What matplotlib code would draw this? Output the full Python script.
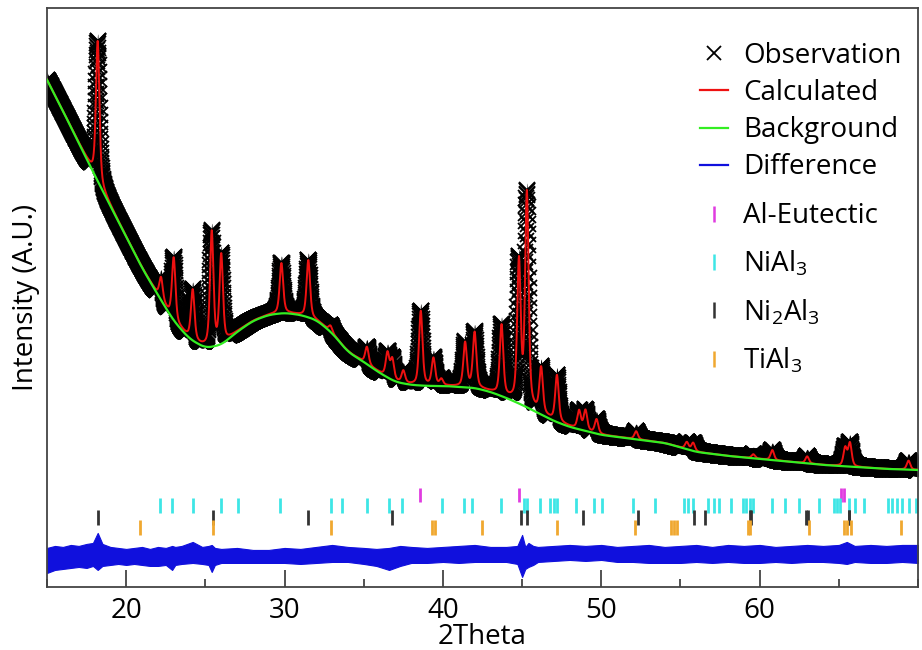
import numpy as np
import matplotlib
matplotlib.use("Agg")
from matplotlib import pyplot as plt
from matplotlib.lines import Line2D
from matplotlib.ticker import MultipleLocator

plt.rcParams['font.family'] = ['Open Sans', 'DejaVu Sans']
plt.rcParams['mathtext.fontset'] = 'custom'
plt.rcParams['mathtext.rm'] = 'Open Sans'
plt.rcParams['mathtext.default'] = 'regular'

# refined background (green curve)
bg_theta = [14.0, 15.0, 16.0, 17.0, 18.0, 19.0, 20.0, 21.0, 22.0, 23.0, 24.0,
            25.0, 26.0, 27.0, 28.0, 29.0, 30.0, 31.0, 32.0, 33.0, 34.0,
            35.0, 36.0, 37.0, 38.0, 39.0, 40.0, 41.0, 42.0, 43.0, 44.0,
            45.0, 46.0, 47.0, 48.0, 49.0, 50.0, 52.0, 54.0, 56.0, 58.0,
            60.0, 62.0, 64.0, 66.0, 68.0, 70.0, 71.0]
bg_int = [538, 507, 476, 444, 412, 381, 350, 319, 292, 266, 248,
          239, 242, 255, 266, 272, 274, 272, 267, 254, 235,
          225, 214, 205, 202, 201, 201, 200, 199, 195, 189,
          182, 174, 166, 160, 156, 152, 148, 144, 135, 131,
          128, 125, 122, 120, 118, 117, 116]

# reflections in the calculated pattern: 2theta and height above background
peak_pos = [18.2, 22.2, 23.0, 24.2, 25.4, 26.0, 29.8, 31.5, 32.9, 35.2,
            36.5, 36.8, 37.5, 38.6, 39.4, 39.9, 41.4, 42.0, 43.7, 44.8,
            45.3, 46.2, 47.2, 48.6, 49.0, 49.7, 52.2, 55.4, 55.8, 59.6,
            60.8, 63.0, 65.4, 65.7, 69.4]
peak_height = [140, 22, 62, 50, 114, 88, 50, 57, 6, 17,
               24, 20, 12, 74, 27, 6, 44, 55, 70, 140,
               212, 45, 46, 18, 20, 14, 8, 7, 8, 4,
               10, 7, 18, 23, 9]
peak_fwhm = 0.26

# phase reflection markers
tick_al = [38.53, 44.80, 65.15, 65.31]
tick_nial3 = [22.13, 22.92, 24.23, 25.97, 27.07, 29.70, 32.95, 33.61, 35.19,
              36.59, 37.43, 39.92, 41.32, 41.85, 43.64, 45.11, 45.32, 46.10,
              46.73, 47.00, 47.21, 48.41, 49.57, 50.05, 51.99, 53.38, 55.25,
              55.46, 55.77, 56.74, 57.10, 57.41, 58.19, 58.95, 59.16, 59.37,
              59.58, 60.78, 61.62, 62.46, 63.72, 64.67, 64.88, 65.09, 65.61,
              66.04, 66.56, 68.09, 68.35, 68.66, 68.98, 69.40, 69.90]
tick_ni2al3 = [18.19, 25.49, 31.48, 36.76, 44.90, 45.32, 48.83, 52.32,
               55.84, 56.53, 59.37, 59.48, 62.92, 63.03, 65.61, 65.67]
tick_tial3 = [20.88, 25.45, 32.91, 39.33, 39.50, 42.44, 47.21, 52.11,
              54.37, 54.57, 54.78, 59.26, 59.41, 63.13, 65.30, 65.51, 65.79,
              68.94]

# difference curve, upper / lower edge of the blue trace
diff_theta = [15.0, 15.5, 16.0, 16.5, 17.0, 17.5, 17.9, 18.2, 18.5, 19.0,
              19.5, 20.0, 20.5, 21.0, 21.5, 22.0, 22.5, 22.9, 23.1, 23.5,
              24.2, 24.8, 25.2, 25.4, 25.6, 26.0, 27.0, 28.0, 29.0, 30.0,
              31.0, 32.0, 33.0, 34.0, 35.0, 35.8, 36.6, 37.3, 38.0, 39.0,
              40.0, 41.0, 42.0, 43.0, 44.0, 44.7, 45.0, 45.2, 45.4, 45.7,
              46.0, 47.0, 48.0, 49.0, 50.0, 51.0, 52.0, 53.0, 54.0, 55.0,
              56.0, 57.0, 58.0, 59.0, 60.0, 61.0, 62.0, 63.0, 64.0, 65.0,
              65.5, 66.0, 67.0, 68.0, 69.0, 70.0]
diff_top = [39, 41, 40, 42, 41, 43, 44, 54, 43, 40,
            39, 38, 39, 40, 38, 40, 39, 41, 40, 41,
            45, 40, 41, 42, 39, 38, 39, 37, 37, 39,
            38, 40, 42, 40, 39, 38, 39, 41, 40, 39,
            40, 41, 42, 40, 40, 41, 52, 40, 44, 41,
            40, 41, 42, 41, 42, 40, 41, 42, 40, 41,
            42, 40, 42, 41, 42, 40, 41, 42, 41, 42,
            45, 41, 42, 41, 42, 42]
diff_bot = [14, 17, 18, 19, 20, 19, 21, 17, 21, 22,
            23, 22, 23, 22, 21, 21, 22, 17, 22, 23,
            24, 23, 22, 15, 22, 24, 24, 24, 24, 24,
            23, 24, 25, 25, 23, 21, 17, 21, 24, 24,
            25, 24, 25, 25, 25, 23, 10, 18, 20, 22,
            25, 26, 27, 26, 27, 25, 25, 24, 24, 24,
            25, 24, 25, 24, 24, 25, 24, 25, 25, 24,
            23, 25, 24, 24, 25, 24]

theta = np.arange(14.0, 71.0, 0.01)
background = np.interp(theta, bg_theta, bg_int)
kernel = np.ones(81) / 81
background = np.convolve(np.pad(background, 40, mode='edge'), kernel, mode='valid')

calc = background.copy()
for pos, h in zip(peak_pos, peak_height):
    d = (theta - pos) / (peak_fwhm / 2)
    calc += h * (0.5 / (1 + d ** 2) + 0.5 * np.exp(-np.log(2) * d ** 2))

fig, ax = plt.subplots(figsize=(9.22, 6.5), dpi=100)
fig.subplots_adjust(left=0.051, right=0.9957, top=0.988, bottom=0.097)

# observation: dense crosses around the profile
ax.fill_between(theta, calc - 7, calc + 7, color='black', lw=0, zorder=1)
ax.plot(theta, calc, ls='none', marker='x', ms=11, mew=1.3, color='black', zorder=1)
ax.plot(theta, calc, color='#ee1111', lw=1.4, zorder=3)
ax.plot(theta, background, color='#33ee22', lw=1.6, zorder=4)

ax.fill_between(diff_theta, diff_bot, diff_top, color='#1010dd', lw=0.8,
                edgecolor='#1010dd', zorder=2)

ax.vlines(tick_al, 85, 99, color='#e03ce0', lw=2)
ax.vlines(tick_nial3, 74, 89, color='#3ee6e6', lw=2)
ax.vlines(tick_ni2al3, 62, 77, color='#333333', lw=2)
ax.vlines(tick_tial3, 52, 67, color='#f0a830', lw=2)

ax.set_xlim(15, 70)
ax.set_ylim(0, 579)
ax.set_yticks([])
ax.xaxis.set_minor_locator(MultipleLocator(5))
ax.set_xticks([20, 30, 40, 50, 60])
ax.tick_params(axis='x', which='major', direction='in', length=12, width=1.3,
               color='#444444', labelsize=20, pad=7)
ax.tick_params(axis='x', which='minor', direction='in', length=6, width=1.3,
               color='#444444')
for spine in ax.spines.values():
    spine.set_linewidth(1.3)
    spine.set_color('#444444')

ax.set_xlabel('2Theta', fontsize=20, labelpad=-1)
ax.set_ylabel('Intensity (A.U.)', fontsize=20, labelpad=5)

curve_handles = [
    Line2D([], [], ls='none', marker='x', ms=10, mew=1.3, color='black'),
    Line2D([], [], color='#ee1111', lw=1.6),
    Line2D([], [], color='#33ee22', lw=1.6),
    Line2D([], [], color='#1010dd', lw=1.6),
]
curve_labels = ['Observation', 'Calculated', 'Background', 'Difference']
phase_handles = [
    Line2D([], [], ls='none', marker='|', ms=11, mew=1.8, color='#e03ce0'),
    Line2D([], [], ls='none', marker='|', ms=11, mew=1.8, color='#3ee6e6'),
    Line2D([], [], ls='none', marker='|', ms=11, mew=1.8, color='#333333'),
    Line2D([], [], ls='none', marker='|', ms=11, mew=1.8, color='#f0a830'),
]
phase_labels = ['Al-Eutectic', 'NiAl$_3$', 'Ni$_2$Al$_3$', 'TiAl$_3$']

leg1 = ax.legend(curve_handles, curve_labels, loc='upper left',
                 bbox_to_anchor=(0.7497, 0.941), frameon=False, fontsize=20,
                 handlelength=1.0, handletextpad=0.55, labelspacing=0.33,
                 borderpad=0, borderaxespad=0)
ax.add_artist(leg1)
ax.legend(phase_handles, phase_labels, loc='upper left',
          bbox_to_anchor=(0.7497, 0.664), frameon=False, fontsize=20,
          handlelength=1.0, handletextpad=0.55, labelspacing=0.68,
          borderpad=0, borderaxespad=0)

fig.savefig('out.png', dpi=100)
